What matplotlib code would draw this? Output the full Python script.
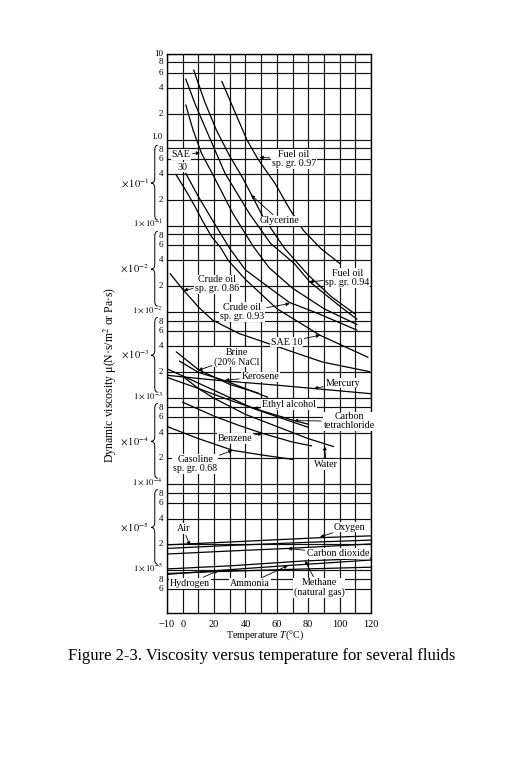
import numpy as np
import matplotlib
matplotlib.use("Agg")
import matplotlib.pyplot as plt
from matplotlib.path import Path
from matplotlib.patches import PathPatch
import matplotlib.transforms as mtransforms

plt.rcParams['font.family'] = ['Liberation Serif', 'DejaVu Serif']
plt.rcParams['mathtext.fontset'] = 'stix'

# -------------------- data (temperature in C, viscosity in Pa.s) --------------------
fuel97_T = [25, 32, 41, 48, 59, 68, 77, 88, 100]
fuel97_mu = [4.8, 2.4, 1.0, 0.6, 0.31, 0.16, 0.089, 0.055, 0.037]

glyc_T = [7, 14, 21.5, 30, 38, 51, 65, 80, 95, 110]
glyc_mu = [6.5, 2.8, 1.3, 0.65, 0.37, 0.13, 0.055, 0.027, 0.015, 0.0095]

fuel94_T = [2, 8, 15, 27, 42.5, 56, 71, 81, 99.5, 111]
fuel94_mu = [5.1, 2.6, 1.31, 0.41, 0.14, 0.063, 0.037, 0.0225, 0.012, 0.0083]

sae30_T = [2, 6.6, 12, 18.8, 32, 45, 55, 70, 90, 111]
sae30_mu = [2.55, 1.31, 0.7, 0.41, 0.14, 0.058, 0.033, 0.019, 0.011, 0.0072]

crude93_T = [2, 10, 19, 30, 40, 54.5, 68, 86, 111]
crude93_mu = [0.41, 0.22, 0.117, 0.055, 0.031, 0.0197, 0.013, 0.0097, 0.0062]

sae10_T = [-4, 2.5, 8, 13, 18.5, 24, 29, 40, 60, 87.5, 118]
sae10_mu = [0.39, 0.25, 0.167, 0.112, 0.075, 0.057, 0.040, 0.024, 0.011, 0.0054, 0.003]

crude86_T = [-8, 0.5, 4.3, 10, 19, 36, 60, 89, 119]
crude86_mu = [0.028, 0.018, 0.0151, 0.0115, 0.0081, 0.00565, 0.0040, 0.00264, 0.00204]

brine_T = [-4, 10, 30, 48]
brine_mu = [0.00345, 0.00215, 0.00145, 0.00115]

kero_T = [-2, 10, 27, 54]
kero_mu = [0.0027, 0.0020, 0.0016, 0.00103]

mercury_T = [-10, 20, 60, 100, 120]
mercury_mu = [0.00185, 0.00163, 0.00142, 0.00122, 0.00113]

ethanol_T = [-10, 10, 30, 45, 70, 80]
ethanol_mu = [0.0022, 0.0015, 0.00102, 0.00076, 0.00053, 0.00046]

ccl4_T = [-10, 10, 30, 50, 71, 80]
ccl4_mu = [0.00175, 0.0013, 0.00095, 0.00072, 0.00055, 0.0005]

benzene_T = [0, 20, 35, 51, 70, 82]
benzene_mu = [0.0009, 0.00062, 0.00049, 0.00039, 0.00031, 0.00028]

water_T = [0, 10, 20, 40, 60, 80, 96]
water_mu = [0.0018, 0.0013, 0.001, 0.00065, 0.00047, 0.00034, 0.000275]

gasoline_T = [-10, 10, 32, 50, 70]
gasoline_mu = [0.00047, 0.00034, 0.000248, 0.00022, 0.000195]

oxygen_T = [-10, 30, 87.5, 120]
oxygen_mu = [1.98e-5, 2.14e-5, 2.40e-5, 2.52e-5]

air_T = [-10, 30, 80, 120]
air_mu = [1.80e-5, 1.95e-5, 2.12e-5, 2.25e-5]

co2_T = [-10, 30, 67, 120]
co2_mu = [1.55e-5, 1.68e-5, 1.80e-5, 2.03e-5]

methane_T = [-10, 30, 78, 120]
methane_mu = [1.04e-5, 1.13e-5, 1.29e-5, 1.38e-5]

ammonia_T = [-10, 30, 67, 120]
ammonia_mu = [0.90e-5, 1.02e-5, 1.14e-5, 1.32e-5]

hydrogen_T = [-10, 22.8, 70, 120]
hydrogen_mu = [0.92e-5, 0.97e-5, 1.03e-5, 1.09e-5]

curves = [
    (fuel97_T, fuel97_mu), (glyc_T, glyc_mu), (fuel94_T, fuel94_mu),
    (sae30_T, sae30_mu), (crude93_T, crude93_mu), (sae10_T, sae10_mu),
    (crude86_T, crude86_mu), (brine_T, brine_mu), (kero_T, kero_mu),
    (mercury_T, mercury_mu), (ethanol_T, ethanol_mu), (ccl4_T, ccl4_mu),
    (benzene_T, benzene_mu), (water_T, water_mu), (gasoline_T, gasoline_mu),
    (oxygen_T, oxygen_mu), (air_T, air_mu), (co2_T, co2_mu),
    (methane_T, methane_mu), (ammonia_T, ammonia_mu), (hydrogen_T, hydrogen_mu),
]

# label text, text position (T, mu), arrow tip (T, mu) or None
labels = [
    ("SAE", (-1, 0.68), (11, 0.71)),
    ("30", (0, 0.485), None),
    ("Fuel oil\nsp. gr. 0.97", (71, 0.6), (49, 0.63)),
    ("Glycerine", (62, 0.115), (43.5, 0.23)),
    ("Fuel oil\nsp. gr. 0.94", (105, 0.0249), (80.7, 0.0225)),
    ("Crude oil\nsp. gr. 0.86", (22, 0.021), (0.6, 0.018)),
    ("Crude oil\nsp. gr. 0.93", (38, 0.0101), (68.2, 0.0126)),
    ("SAE 10", (66, 0.0045), (87.5, 0.0054)),
    ("Brine\n(20% NaCl", (34.5, 0.003), (10, 0.00212)),
    ("Kerosene", (49.5, 0.00177), (27, 0.00162)),
    ("Mercury", (102, 0.0015), (83.7, 0.0013)),
    ("Ethyl alcohol", (67.7, 0.00085), (45.3, 0.00076)),
    ("Carbon\ntetrachloride", (106, 0.00054), (71, 0.00055)),
    ("Benzene", (33.5, 0.00034), (50.6, 0.00039)),
    ("Gasoline\nsp. gr. 0.68", (8, 0.000172), (31.7, 0.000248)),
    ("Water", (91.5, 0.00017), (90.4, 0.000277)),
    ("Air", (0.3, 3.05e-5), (4.6, 1.95e-5)),
    ("Oxygen", (106.5, 3.19e-5), (87.5, 2.44e-5)),
    ("Carbon dioxide", (99, 1.56e-5), (67, 1.8e-5)),
    ("Hydrogen", (4.7, 7.1e-6), (22.8, 1.0e-5)),
    ("Ammonia", (43, 7.1e-6), (67, 1.14e-5)),
    ("Methane\n(natural gas)", (87, 6.3e-6), (78, 1.29e-5)),
]

x_grid = list(range(-10, 121, 10))
x_labels = ["\u221210", "0", "", "20", "", "40", "", "60", "", "80", "", "100", "", "120"]
decades = [-1, -2, -3, -4, -5]
mantissas = [8, 6, 4, 2]

# -------------------- figure --------------------
fig = plt.figure(figsize=(5.26, 7.63), dpi=100)
ax = fig.add_axes([0.3175, 0.1966, 0.3878, 0.7326])
ax.set_yscale("log")
ax.set_xlim(-10, 120)
ax.set_ylim(3.2e-6, 10)

# grid
y_grid = [10.0]
for k in range(0, -7, -1):
    for m in [8, 6, 4, 2, 1]:
        v = m * 10.0 ** k
        if 5e-6 < v < 10:
            y_grid.append(v)
for v in y_grid:
    ax.axhline(v, color="#111111", lw=0.85, zorder=1)
for t in x_grid:
    ax.axvline(t, color="#111111", lw=0.85, zorder=1)

for T, mu in curves:
    ax.plot(T, mu, color="black", lw=0.9, zorder=2)

for spine in ax.spines.values():
    spine.set_linewidth(1.0)

ax.set_xticks(x_grid)
ax.set_xticklabels(x_labels, fontsize=7.5)
ax.set_yticks([])
ax.minorticks_off()
ax.tick_params(axis="x", length=0, pad=5)
ax.tick_params(axis="y", which="both", length=0, labelleft=False)

# y labels
trans = mtransforms.blended_transform_factory(ax.transAxes, ax.transData)
up = trans + mtransforms.ScaledTranslation(0, 2.2 / 72, fig.dpi_scale_trans)
down = trans + mtransforms.ScaledTranslation(0, -1.2 / 72, fig.dpi_scale_trans)
lab_x = -0.02
fs = 6.5
ax.text(lab_x, 10, "10", transform=trans, ha="right", va="center", fontsize=fs)
for m in mantissas:
    ax.text(lab_x, m, str(m), transform=trans, ha="right", va="center", fontsize=fs)
ax.text(lab_x, 1.0, "1.0", transform=up, ha="right", va="center", fontsize=fs)

for k in decades:
    for m in mantissas:
        ax.text(lab_x, m * 10.0 ** k, str(m), transform=down if m == 8 else trans,
                ha="right", va="center", fontsize=fs)
    ax.text(lab_x, 10.0 ** k, r"$1\times10^{%d}$" % k, transform=up,
            ha="right", va="center", fontsize=6.3)
    ax.text(-0.088, 10.0 ** (k + 0.5), r"$\times\,10^{%d}$" % k, transform=trans,
            ha="right", va="center", fontsize=7.5)
    # curly brace
    top, bot, mid, r = k + 0.94, k + 0.07, k + 0.5, 0.06
    xr, xm, xl = -0.045, -0.06, -0.078
    verts = [(xr, top), (xm, top), (xm, top - r), (xm, mid + r),
             (xm, mid), (xl, mid), (xm, mid), (xm, mid - r),
             (xm, bot + r), (xm, bot), (xr, bot)]
    codes = [Path.MOVETO, Path.CURVE3, Path.CURVE3, Path.LINETO,
             Path.CURVE3, Path.CURVE3, Path.CURVE3, Path.CURVE3,
             Path.LINETO, Path.CURVE3, Path.CURVE3]
    verts = [(vx, 10.0 ** vy) for vx, vy in verts]
    ax.add_patch(PathPatch(Path(verts, codes), fc="none", ec="black",
                           lw=0.7, transform=trans, clip_on=False))
for m in [8, 6]:
    ax.text(lab_x, m * 1e-6, str(m), transform=down if m == 8 else trans,
            ha="right", va="center", fontsize=fs)

# curve labels
for txt, pos, tip in labels:
    box = dict(boxstyle="square,pad=0.08", fc="white", ec="none")
    if tip is None:
        ax.text(pos[0], pos[1], txt, ha="center", va="center", fontsize=7.2,
                bbox=box, zorder=5)
    else:
        ax.annotate(txt, xy=tip, xytext=pos, ha="center", va="center",
                    fontsize=7.2, linespacing=1.0, bbox=box, zorder=5,
                    arrowprops=dict(arrowstyle="-|>", color="black", lw=0.6,
                                    mutation_scale=5, shrinkA=1, shrinkB=0))

fig.text(110 / 526, 1 - 375 / 763, "Dynamic viscosity \u03bc(N\u00b7s/m$^2$ or Pa\u00b7s)",
         rotation=90, ha="center", va="center", fontsize=8.5)
fig.text(265 / 526, 1 - 635 / 763, "Temperature $T$(\u00b0C)", ha="center", va="center",
         fontsize=7.2)
fig.text(262 / 526, 1 - 656 / 763,
         "Figure 2-3. Viscosity versus temperature for several fluids",
         ha="center", va="center", fontsize=12)

fig.savefig("out.png", dpi=100, facecolor="white")
